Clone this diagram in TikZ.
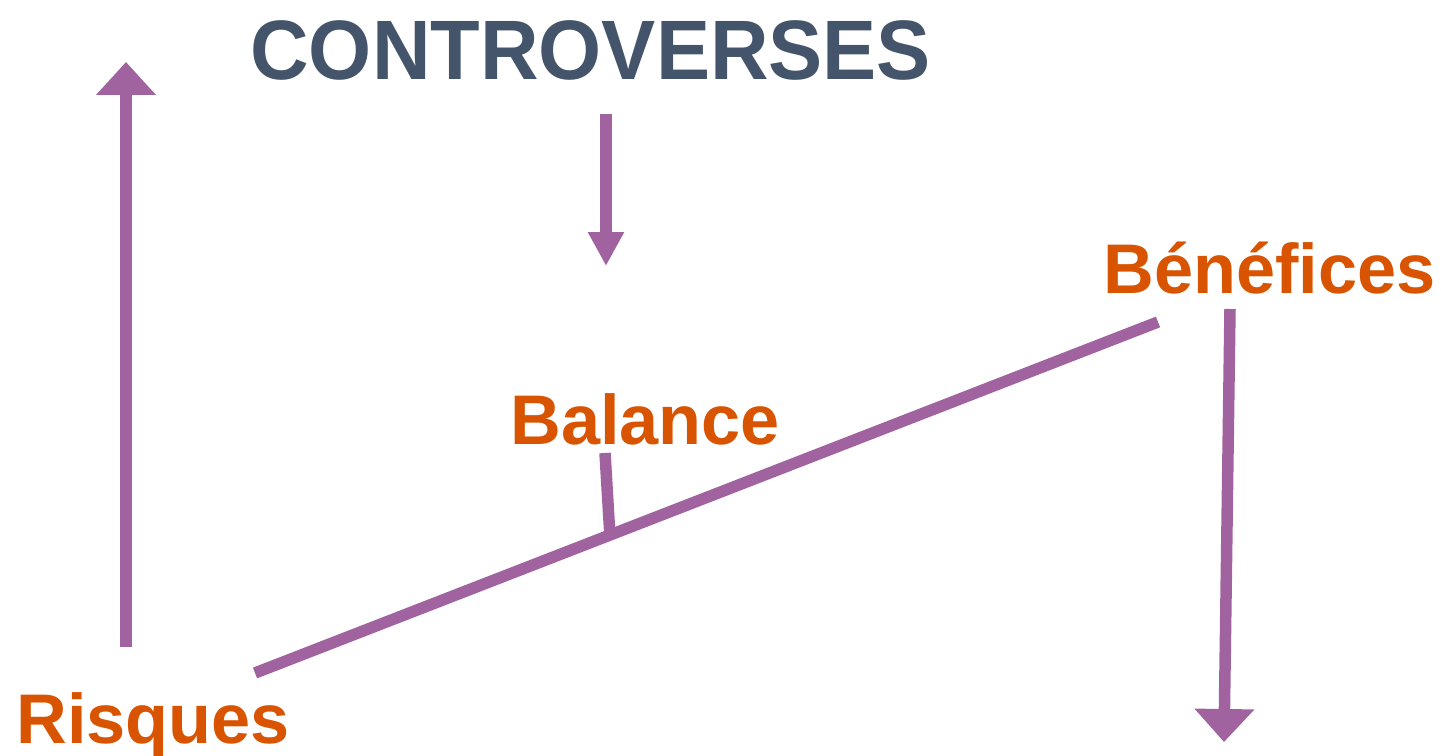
\documentclass[tikz,border=0pt]{standalone}
\usepackage{fontspec}
\setmainfont{Liberation Sans}
\newfontfamily\condfont[FakeStretch=0.962]{Liberation Sans}
\usetikzlibrary{arrows.meta,calc}

\definecolor{slate}{RGB}{68,84,106}
\definecolor{rust}{RGB}{217,84,0}
\definecolor{mauve}{RGB}{160,99,160}

\tikzset{
  title text/.style={inner sep=0pt, anchor=base west, text=slate,
    font=\condfont\fontsize{48}{52}\selectfont\bfseries},
  side text/.style={inner sep=0pt, anchor=base west, text=rust,
    font=\fontsize{40}{44}\selectfont\bfseries},
  bar/.style={draw=mauve, line width=0.23cm},
  big arrow/.style={bar, -{Triangle[width=1.16cm,length=0.66cm]}},
  small arrow/.style={bar, -{Triangle[width=0.68cm,length=0.68cm]}}
}

\begin{document}
\begin{tikzpicture}[x=0.02cm,y=-0.02cm]
\useasboundingbox (0,0) rectangle (1441,756);

\node[title text] (controverses) at (250,80) {CONTROVERSES};
\node[side text] (benefices) at (1103,294) {Bénéfices};
\node[side text] (balance) at (510,445) {Balance};
\node[side text] (risques) at (16,744) {Risques};

% free ends of the arrows
\coordinate (risk foot) at (126,647);
\coordinate (risk head) at (126,62);
\coordinate (debate top) at (606,114);
\coordinate (debate head) at (606,266);
\coordinate (gain top) at (1230,309);
\coordinate (gain head) at (1224,742);

% the scale: beam and post
\coordinate (beam left) at (255,673);
\coordinate (beam right) at (1158,322);
\coordinate (post top) at (605,453);
\coordinate (pivot) at ($(beam left)!0.393!(beam right)$);

\draw[big arrow] (risk foot) -- (risk head);
\draw[small arrow] (debate top) -- (debate head);
\draw[big arrow] (gain top) -- (gain head);

\draw[bar] (beam left) -- (beam right);
\draw[bar] (post top) -- (pivot);
\end{tikzpicture}
\end{document}
